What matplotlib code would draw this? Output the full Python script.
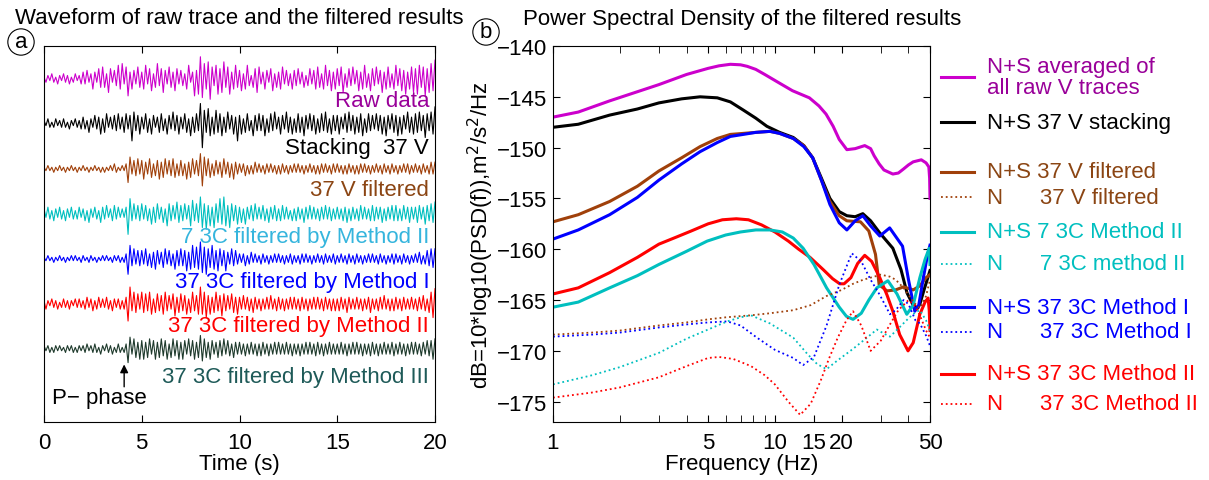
import numpy as np
import matplotlib
matplotlib.use("Agg")
import matplotlib.pyplot as plt
from matplotlib.lines import Line2D

plt.rcParams['font.family'] = ['Liberation Sans', 'DejaVu Sans']
plt.rcParams['font.size'] = 16

# ---- waveforms (panel a), amplitude in pixels, one value every 0.1 s ----
raw_trace = [1,-2,2,-1,3,-2,1,-3,2,-1, 3,-2,2,-3,1,-2,3,-1,2,-3,
             4,-3,5,-2,3,-6,4,-2,6,-5, 7,-5,3,-8,6,-2,5,-4,8,-6,
             9,-3,7,-10,4,-6,5,-3,7,-5, 4,-6,8,-3,6,-7,3,-5,9,-4,
             6,-8,5,-3,7,-5,4,-7,6,-3, 5,-4,3,-6,8,-2,4,-10,5,-9,
             13,-11,9,-6,10,-12,7,-4,8,-9, 6,-8,10,-5,7,-9,4,-6,8,-5,
             5,-7,3,-6,8,-4,2,-5,6,-8, 7,-3,4,-6,5,-2,6,-7,3,-5,
             4,-6,7,-3,5,-4,3,-6,5,-4, 6,-3,4,-5,2,-4,6,-3,5,-6,
             7,-5,3,-6,8,-4,5,-7,4,-6, 6,-4,7,-8,3,-5,6,-4,7,-3,
             5,-7,4,-6,8,-5,3,-7,6,-4, 7,-3,5,-8,4,-6,7,-5,3,-6,
             8,-4,6,-7,5,-9,4,-6,7,-8, 6,-9,8,-5,7,-10,6,-8,9,-7, 11]
stack_trace = [2,-1,3,-2,1,-2,3,-1,2,-2, 3,-2,1,-3,2,-1,3,-2,2,-3,
               4,-3,2,-5,3,-2,5,-3,4,-6, 3,-5,6,-2,4,-3,5,-4,6,-3,
               4,-5,6,-3,5,-10,7,-4,5,-6, 4,-3,6,-5,3,-6,5,-2,4,-5,
               6,-4,3,-6,5,-3,7,-4,5,-6, 4,-3,6,-5,3,-7,4,-5,6,-4,
               12,-14,8,-5,9,-7,4,-6,8,-5, 6,-7,4,-5,7,-3,5,-6,4,-10,
               5,-6,3,-5,6,-4,2,-7,5,-4, 6,-4,5,-7,3,-5,6,-4,7,-3,
               4,-6,5,-3,7,-5,4,-6,3,-5, 6,-5,4,-7,5,-3,6,-4,5,-6,
               3,-5,6,-4,7,-5,3,-6,5,-4, 5,-6,4,-3,6,-5,7,-4,5,-6,
               4,-5,6,-7,3,-5,6,-4,5,-3, 6,-4,5,-6,4,-7,5,-3,6,-5,
               5,-7,4,-6,5,-3,7,-5,4,-6, 6,-5,7,-4,5,-8,6,-4,7,-6, 10]
vfilt_trace = [1,-1,2,-1,1,-2,1,-1,2,-1, 1,-2,1,-1,2,-1,1,-2,1,-1,
               2,-1,1,-2,1,-1,2,-1,1,-2, 1,-2,1,-1,2,-1,3,-2,1,-1,
               2,-1,3,-8,7,-3,5,-4,6,-3, 5,-6,4,-3,6,-5,3,-4,5,-6,
               4,-5,6,-3,5,-4,6,-5,3,-4, 5,-4,3,-6,4,-5,6,-3,5,-4,
               9,-10,7,-4,6,-5,3,-4,5,-3, 4,-5,6,-3,4,-5,3,-6,4,-3,
               3,-2,3,-4,2,-3,2,-3,4,-2, 3,-2,2,-3,3,-2,3,-2,2,-3,
               2,-3,3,-2,2,-3,2,-2,3,-2, 3,-2,2,-3,2,-2,3,-2,2,-3,
               2,-3,3,-2,3,-2,2,-3,3,-2, 3,-2,2,-3,2,-3,3,-2,2,-3,
               2,-3,3,-2,3,-2,2,-3,2,-2, 3,-2,2,-3,3,-2,2,-3,3,-2,
               2,-3,2,-2,3,-2,3,-3,2,-2, 3,-2,2,-3,3,-2,2,-3,4,-3, 4]
c7_trace = [3,-2,4,-3,2,-4,3,-2,4,-3, 2,-4,3,-2,4,-3,2,-3,4,-2,
            3,-4,2,-5,3,-2,4,-3,2,-5, 4,-3,5,-2,3,-4,5,-3,4,-2,
            3,-2,4,-12,9,-4,6,-3,5,-4, 6,-3,5,-4,3,-6,4,-5,6,-3,
            4,-5,3,-7,6,-4,5,-3,7,-5, 5,-4,6,-3,5,-7,8,-4,6,-5,
            10,-8,6,-9,5,-7,4,-8,6,-5, 9,-6,10,-7,5,-8,6,-4,5,-6,
            4,-5,3,-6,4,-3,5,-4,6,-3, 4,-3,5,-4,3,-5,4,-3,5,-4,
            3,-4,5,-3,4,-3,2,-4,3,-4, 4,-3,3,-5,4,-3,5,-3,4,-3,
            3,-4,4,-3,5,-3,4,-4,3,-3, 4,-3,3,-4,4,-5,3,-4,4,-3,
            3,-4,5,-3,4,-3,3,-4,5,-4, 4,-3,4,-5,3,-4,4,-3,5,-4,
            5,-4,3,-4,5,-3,4,-5,4,-3, 4,-5,5,-3,4,-6,5,-4,6,-5, 7]
m1_trace = [1,-1,2,-1,1,-2,1,-1,2,-1, 1,-2,1,-1,2,-1,2,-1,1,-2,
            2,-1,1,-2,2,-1,1,-2,1,-1, 2,-1,2,-1,1,-2,2,-1,2,-2,
            1,-2,3,-9,8,-4,6,-3,5,-4, 5,-3,6,-4,3,-5,4,-6,5,-3,
            4,-5,6,-3,5,-4,3,-6,5,-4, 6,-4,5,-7,4,-6,8,-5,7,-6,
            10,-8,7,-9,6,-5,8,-6,5,-7, 6,-4,5,-7,4,-3,6,-4,5,-3,
            3,-2,3,-4,2,-3,4,-2,3,-2, 2,-3,3,-2,2,-3,2,-2,3,-2,
            3,-2,2,-3,2,-2,3,-3,2,-2, 2,-3,3,-2,3,-2,2,-3,2,-2,
            3,-2,2,-3,3,-2,2,-2,3,-3, 2,-2,3,-2,2,-3,3,-2,2,-3,
            3,-2,2,-3,2,-2,3,-2,3,-2, 2,-3,3,-2,2,-3,2,-2,3,-3,
            3,-2,2,-3,3,-2,2,-3,2,-2, 3,-2,4,-3,2,-3,5,-4,6,-5, 6]
m2_trace = [2,-3,2,-1,3,-2,2,-3,1,-2, 3,-2,2,-3,2,-1,3,-2,3,-2,
            2,-3,4,-2,3,-4,2,-3,4,-2, 3,-2,4,-3,2,-4,3,-2,3,-3,
            2,-3,4,-10,10,-4,7,-5,6,-3, 7,-5,6,-4,7,-6,3,-5,6,-4,
            5,-6,7,-4,5,-3,6,-7,4,-5, 6,-4,5,-6,3,-5,7,-4,5,-6,
            10,-6,7,-8,5,-6,4,-5,7,-4, 5,-7,6,-4,5,-3,6,-5,4,-6,
            4,-3,5,-3,4,-4,3,-5,4,-3, 3,-4,3,-3,4,-3,5,-3,3,-4,
            4,-3,3,-4,3,-3,4,-3,4,-3, 3,-4,4,-3,3,-4,3,-3,4,-3,
            4,-3,3,-4,4,-3,3,-4,3,-4, 3,-4,4,-3,3,-5,4,-3,3,-3,
            4,-3,3,-4,3,-3,4,-5,3,-3, 3,-4,4,-3,5,-3,3,-4,3,-4,
            4,-3,3,-4,4,-3,3,-3,4,-3, 3,-4,4,-3,5,-4,3,-5,7,-8, 9]
m3_trace = [2,-1,2,-2,1,-2,2,-1,2,-1, 1,-2,2,-1,2,-2,1,-2,2,-1,
            2,-2,3,-1,2,-2,3,-2,1,-3, 2,-1,3,-2,2,-3,1,-2,3,-2,
            1,-2,3,-8,7,-3,6,-5,4,-6, 5,-6,4,-5,6,-3,5,-6,4,-5,
            6,-4,5,-6,3,-5,6,-4,5,-6, 4,-6,5,-3,6,-4,5,-6,4,-5,
            8,-7,6,-5,4,-6,5,-3,4,-5, 5,-4,6,-3,5,-4,3,-5,4,-3,
            4,-3,3,-4,3,-3,4,-3,3,-4, 3,-4,4,-3,3,-4,3,-3,4,-3,
            4,-3,3,-3,4,-3,3,-4,3,-3, 3,-4,3,-3,4,-3,4,-3,3,-4,
            4,-3,3,-4,3,-3,4,-3,3,-3, 3,-3,4,-3,3,-4,3,-3,4,-3,
            4,-3,3,-4,3,-3,3,-4,4,-3, 3,-4,3,-3,4,-3,3,-3,4,-4,
            3,-3,4,-3,3,-4,3,-3,4,-3, 4,-3,3,-4,4,-3,5,-4,5,-6, 6]

traces = [raw_trace, stack_trace, vfilt_trace, c7_trace, m1_trace, m2_trace, m3_trace]
trace_colors = ['#CC00CC', 'black', '#A0400A', '#00BFBF', 'blue', 'red', '#1E3A2C']
trace_labels = ['Raw data', 'Stacking  37 V', '37 V filtered',
                '7 3C filtered by Method II', '37 3C filtered by Method I',
                '37 3C filtered by Method II', '37 3C filtered by Method III']
label_colors = ['#990099', 'black', '#8B4513', '#35B5DD', 'blue', 'red', '#1E5A58']
label_dy = [-0.49, -0.52, -0.45, -0.51, -0.49, -0.47, -0.60]

# ---- PSD curves (panel b) ----
mag_f = [1, 1.3, 1.8, 2.4, 3, 4, 5, 5.6, 6.3, 7, 7.5, 8.2, 9, 10.2, 12, 14.3, 15.8, 17, 18.3,
         19.5, 21.1, 23, 25.4, 27, 28, 29.5, 31, 34, 36, 38, 40, 42, 45.7, 48, 49.4, 49.8, 50]
mag_db = [-147.0, -146.5, -145.4, -144.5, -143.8, -142.8, -142.2, -141.95, -141.8, -141.85,
          -142.0, -142.3, -142.8, -143.5, -144.4, -145.1, -145.9, -146.7, -147.9,
          -149.2, -150.2, -150.1, -149.8, -150.1, -150.8, -151.6, -152.2, -152.6, -152.5,
          -152.1, -151.7, -151.4, -151.2, -151.5, -151.9, -153.0, -155.0]
blk_f = [1, 1.3, 1.8, 2.4, 3, 3.8, 4.6, 5.5, 6.3, 7.2, 8.2, 9.2, 10.5, 12.1, 13.5, 14.8,
         16.2, 17.7, 19.5, 21.1, 23, 24.9, 27, 29.7, 34, 37, 39.4, 42, 44, 45, 47, 50]
blk_db = [-148.0, -147.7, -146.8, -146.2, -145.6, -145.2, -145.0, -145.1, -145.5, -146.3,
          -147.1, -147.9, -148.5, -149.0, -149.8, -151.0, -153.0, -155.0, -156.3, -156.7,
          -156.8, -156.5, -157.2, -158.4, -159.9, -162.0, -164.3, -165.5, -165.8, -165.4,
          -164.0, -162.1]
brn_f = [1, 1.3, 1.8, 2.4, 3, 3.8, 4.6, 5.5, 6.3, 7.2, 8.2, 9.5, 10.5, 12.1, 13.5, 14.8,
         16.2, 17.7, 19.5, 21.1, 24.3, 26.5, 28.4, 29.5, 32, 35, 38, 42, 45, 48, 50]
brn_db = [-157.3, -156.6, -155.3, -153.8, -152.3, -151.0, -149.9, -149.1, -148.7, -148.6,
          -148.5, -148.4, -148.6, -149.1, -149.8, -151.0, -153.2, -155.3, -156.7, -157.2,
          -157.3, -158.2, -160.5, -163.5, -164.1, -164.0, -163.7, -164.0, -163.6, -162.8,
          -162.5]
blu_f = [1, 1.3, 1.8, 2.4, 3, 3.8, 4.6, 5.5, 6.3, 7.2, 8.2, 9.5, 10.5, 12.1, 13.5, 14.8,
         16.2, 17.7, 19.5, 21.1, 23, 24.9, 27, 29.7, 32.9, 37.6, 40, 42.7, 44.5, 46.5, 48.5, 50]
blu_db = [-159.0, -158.1, -156.6, -154.9, -153.2, -151.6, -150.4, -149.5, -148.9, -148.7,
          -148.5, -148.4, -148.6, -149.1, -149.9, -151.0, -153.2, -155.6, -157.4, -158.1,
          -157.2, -156.7, -157.7, -158.7, -157.9, -159.7, -163.0, -166.1, -165.5, -163.0,
          -160.8, -159.6]
red_f = [1, 1.3, 1.8, 2.4, 3, 3.6, 4.2, 5, 5.8, 6.7, 7.6, 8.7, 10, 11.5, 12.8, 14.4, 16.5,
         18.2, 19.6, 20.5, 22, 23.6, 25.4, 27.3, 29.7, 32, 34, 36.5, 39.8, 42, 45, 47.5, 49,
         49.6, 50]
red_db = [-164.4, -163.8, -162.3, -160.8, -159.5, -158.8, -158.2, -157.5, -157.1, -157.0,
          -157.1, -157.6, -158.3, -159.2, -160.0, -160.8, -162.0, -162.9, -163.4, -163.4,
          -162.8, -161.4, -160.6, -161.2, -162.8, -164.5, -166.1, -168.4, -170.0, -169.2,
          -166.4, -165.2, -164.8, -166.0, -168.0]
cyn_f = [1, 1.3, 1.8, 2.4, 3, 4, 4.95, 6, 7, 8.2, 9.5, 10.8, 12.1, 13.4, 15, 17.1, 19.5,
         21, 22.5, 24.5, 26.5, 28.8, 32.3, 35.5, 39.3, 42, 45, 47.5, 49.6, 50]
cyn_db = [-165.7, -165.2, -163.8, -162.6, -161.5, -160.2, -159.2, -158.6, -158.3, -158.1,
          -158.1, -158.3, -158.9, -159.9, -161.5, -163.8, -165.7, -166.6, -166.9, -166.3,
          -165.0, -163.8, -163.1, -164.4, -166.4, -165.5, -162.8, -161.0, -159.9, -161.5]

nb_f = [1, 1.5, 2, 3, 4, 5, 6, 7.8, 9.5, 12.1, 14.5, 17.1, 20, 22.5, 25, 28, 30, 33, 35, 38,
        40, 43, 45, 48, 50]
nb_db = [-168.4, -168.2, -168.0, -167.5, -167.2, -166.9, -166.7, -166.5, -166.3, -166.0,
         -165.5, -164.6, -164.0, -163.4, -163.0, -162.7, -162.5, -162.7, -163.0, -163.8,
         -164.5, -165.4, -165.8, -164.6, -163.0]
nbl_f = [1, 1.5, 2, 3, 4, 5, 6.1, 7, 8.3, 10, 12.1, 13.4, 15, 17.1, 19.5, 22.2, 24.5, 27, 29.7,
         33, 35, 38, 40, 43, 45, 48, 50]
nbl_db = [-168.6, -168.4, -168.2, -167.7, -167.4, -167.2, -167.1, -167.5, -168.7, -169.9,
          -170.7, -171.4, -170.6, -167.5, -163.5, -160.4, -161.2, -163.0, -164.5, -166.4,
          -166.0, -165.0, -165.4, -167.0, -167.3, -168.5, -169.5]
ncy_f = [1, 1.5, 2, 3, 4, 5, 6.1, 7, 7.8, 9.5, 12.1, 14, 15.5, 17.1, 19, 22.5, 25, 28.8, 31,
         33, 36, 40, 43, 45, 48, 50]
ncy_db = [-173.3, -172.4, -171.6, -170.2, -168.8, -167.9, -167.1, -166.7, -166.5, -167.3,
          -168.7, -170.3, -171.3, -171.8, -171.0, -169.8, -169.0, -167.9, -168.3, -168.6,
          -167.8, -166.8, -166.2, -166.0, -167.0, -168.0]
nrd_f = [1, 1.5, 2, 3, 4, 5, 5.6, 6.5, 7.8, 9, 10, 11.5, 13, 14.5, 16.1, 17.5, 19.2, 21,
         22.5, 24.5, 27, 30, 33, 36, 40, 43, 45, 48, 50]
nrd_db = [-174.6, -174.1, -173.6, -172.6, -171.5, -170.7, -170.6, -170.8, -171.5, -172.4,
          -173.3, -175.0, -176.3, -175.2, -172.9, -170.8, -168.7, -167.0, -166.1, -167.5,
          -170.0, -169.0, -167.4, -166.0, -165.0, -165.6, -166.5, -168.0, -168.7]

fig = plt.figure(figsize=(12.09, 4.81), dpi=100)

# ---------- panel a ----------
ax1 = fig.add_axes([44/1209, 58/481, 391/1209, 376/481])
t = np.arange(len(raw_trace)) * 0.1
gain = 1.7 / 45.0  # pixel amplitudes -> trace spacing units
for i, (tr, col) in enumerate(zip(traces, trace_colors)):
    ax1.plot(t, -i + np.array(tr) * gain, color=col, lw=0.8)
for i, (lab, col) in enumerate(zip(trace_labels, label_colors)):
    ax1.text(19.7, -i + label_dy[i], lab, color=col, ha='right', va='center', fontsize=16)
ax1.annotate('', xy=(4.1, -6.28), xytext=(4.1, -6.9),
             arrowprops=dict(arrowstyle='-|>', color='black', lw=1, mutation_scale=12))
ax1.text(0.4, -7.07, 'P\u2212 phase', ha='left', va='center', fontsize=16)
ax1.set_xlim(0, 20)
ax1.set_ylim(-7.62, 0.73)
ax1.set_xticks([0, 5, 10, 15, 20])
ax1.set_yticks([])
ax1.tick_params(direction='in', top=True, length=5, labelsize=16, pad=7)
ax1.set_xlabel('Time (s)', fontsize=16, labelpad=0)

# ---------- panel b ----------
ax2 = fig.add_axes([553/1209, 58/481, 377/1209, 376/481])
ax2.plot(mag_f, mag_db, color='#CC00CC', lw=2.2)
ax2.plot(blk_f, blk_db, color='black', lw=2.2)
ax2.plot(brn_f, brn_db, color='#A0400A', lw=2.2)
ax2.plot(blu_f, blu_db, color='blue', lw=2.2)
ax2.plot(red_f, red_db, color='red', lw=2.2)
ax2.plot(cyn_f, cyn_db, color='#00BFBF', lw=2.2)
ax2.plot(nb_f, nb_db, color='#A0400A', lw=1.3, ls=':')
ax2.plot(nbl_f, nbl_db, color='blue', lw=1.3, ls=':')
ax2.plot(ncy_f, ncy_db, color='#00BFBF', lw=1.3, ls=':')
ax2.plot(nrd_f, nrd_db, color='red', lw=1.3, ls=':')
ax2.set_xscale('log')
ax2.set_xlim(1, 50)
ax2.set_ylim(-177, -140)
ax2.set_xticks([1, 5, 10, 15, 20, 50])
ax2.set_xticklabels(['1', '5', '10', '15', '20', '50'])
ax2.set_xticks([2, 3, 4, 6, 7, 8, 9, 30, 40], minor=True)
yt = [-175, -170, -165, -160, -155, -150, -145, -140]
ax2.set_yticks(yt)
ax2.set_yticklabels(['\u2212%d' % abs(v) for v in yt])
ax2.tick_params(which='both', direction='in', top=True, right=True, length=5, labelsize=16)
ax2.tick_params(axis='x', which='major', pad=7)
ax2.tick_params(axis='y', pad=4)
ax2.tick_params(which='minor', labelbottom=False)
ax2.set_xlabel('Frequency (Hz)', fontsize=16, labelpad=0)
ax2.set_ylabel('dB=10*log10(PSD(f)),m$^2$/s$^2$/Hz', fontsize=16, labelpad=1)

# ---------- legend of panel b ----------
leg_items = [
    ('N+S averaged of\nall raw V traces', '#CC00CC', '#990099', '-', 78),
    ('N+S 37 V stacking', 'black', 'black', '-', 123),
    ('N+S 37 V filtered', '#A0400A', '#8B4513', '-', 173),
    ('N      37 V filtered', '#A0400A', '#8B4513', ':', 198),
    ('N+S 7 3C Method II', '#00BFBF', '#00BFBF', '-', 233),
    ('N      7 3C method II', '#00BFBF', '#00BFBF', ':', 265),
    ('N+S 37 3C Method I', 'blue', 'blue', '-', 308),
    ('N      37 3C Method I', 'blue', 'blue', ':', 333),
    ('N+S 37 3C Method II', 'red', 'red', '-', 375),
    ('N      37 3C Method II', 'red', 'red', ':', 405),
]
for lab, lcol, tcol, ls, ypx in leg_items:
    yf = 1 - ypx / 481
    fig.add_artist(Line2D([941/1209, 974/1209], [yf, yf], transform=fig.transFigure,
                          color=lcol, ls=ls, lw=2.2 if ls == '-' else 1.3))
    fig.text(987/1209, yf, lab, color=tcol, ha='left', va='center', fontsize=16,
             linespacing=1.0)

# ---------- titles and panel marks ----------
fig.text(15/1209, 1 - 19/481, 'Waveform of raw trace and the filtered results',
         ha='left', va='center', fontsize=16)
fig.text(523/1209, 1 - 19/481, 'Power Spectral Density of the filtered results',
         ha='left', va='center', fontsize=16)
fig.text(21/1209, 1 - 43/481, 'a', ha='center', va='center', fontsize=16,
         bbox=dict(boxstyle='circle,pad=0.12', fc='white', ec='black', lw=0.8))
fig.text(486/1209, 1 - 33/481, 'b', ha='center', va='center', fontsize=16,
         bbox=dict(boxstyle='circle,pad=0.12', fc='white', ec='black', lw=0.8))

fig.savefig('out.png', dpi=100)
